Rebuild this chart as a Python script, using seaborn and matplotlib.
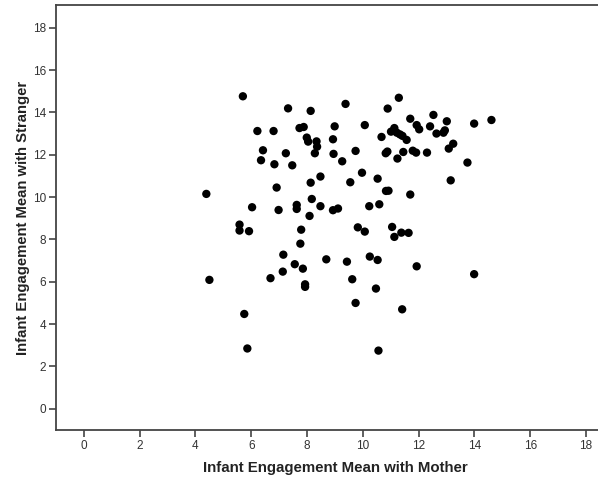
import numpy as np
import pandas as pd
import seaborn as sns
import matplotlib.pyplot as plt

# engagement means
mother = [4.39, 4.50, 5.70, 5.58, 5.58, 5.92, 5.75, 5.86, 6.03, 6.22,
          6.42, 6.35, 6.80, 6.83, 6.91, 6.98, 6.69, 7.13, 7.15, 7.32,
          7.24, 7.47, 7.73, 7.88, 7.99, 8.04, 8.13, 7.63, 7.63, 7.79,
          7.76, 7.56, 7.85, 7.93, 7.93, 8.13, 8.17, 8.09, 8.34, 8.36,
          8.28, 8.48, 8.48, 8.69, 8.93, 8.99, 8.95, 8.93, 9.11, 9.26,
          9.38, 9.55, 9.43, 9.62, 9.74, 9.74, 9.82, 9.97, 10.07, 10.07,
          10.23, 10.25, 10.53, 10.59, 10.53, 10.47, 10.56, 10.67, 10.89, 10.82,
          10.88, 10.83, 10.92, 11.01, 11.13, 11.29, 11.22, 11.33, 11.42, 11.57,
          11.24, 11.45, 11.05, 11.13, 11.38, 11.64, 11.41, 11.70, 11.70, 11.79,
          11.91, 11.93, 12.02, 11.93, 12.30, 12.41, 12.53, 12.64, 12.89, 12.94,
          13.01, 13.08, 13.24, 13.15, 13.75, 13.99, 13.99, 14.61]
stranger = [10.15, 6.09, 14.76, 8.70, 8.42, 8.39, 4.48, 2.85, 9.52, 13.12,
            12.21, 11.74, 13.12, 11.55, 10.45, 9.39, 6.17, 6.48, 7.28, 14.19,
            12.07, 11.50, 13.26, 13.31, 12.81, 12.62, 14.07, 9.63, 9.44, 8.46,
            7.80, 6.83, 6.62, 5.88, 5.76, 10.68, 9.91, 9.11, 12.63, 12.38,
            12.07, 10.97, 9.57, 7.06, 12.73, 13.34, 12.04, 9.38, 9.46, 11.69,
            14.40, 10.70, 6.95, 6.12, 5.00, 12.18, 8.57, 11.15, 13.40, 8.37,
            9.57, 7.19, 10.87, 9.66, 7.03, 5.68, 2.75, 12.84, 14.18, 12.07,
            12.15, 10.29, 10.30, 13.09, 13.26, 14.69, 13.04, 12.96, 12.89, 12.70,
            11.82, 12.13, 8.59, 8.12, 8.32, 8.31, 4.70, 13.70, 10.12, 12.19,
            12.10, 13.40, 13.20, 6.73, 12.10, 13.34, 13.88, 13.00, 13.04, 13.15,
            13.58, 12.29, 12.52, 10.79, 11.63, 13.47, 6.36, 13.64]
ticks = [0, 2, 4, 6, 8, 10, 12, 14, 16, 18]

df = pd.DataFrame({'mother': mother, 'stranger': stranger})

sns.set_style('white')
plt.rcParams['font.family'] = ['Liberation Sans', 'DejaVu Sans']

fig = plt.figure(figsize=(5.98, 4.78), dpi=100)
ax = fig.add_axes([0.0936, 0.1004, 0.9064, 0.8891])
sns.scatterplot(data=df, x='mother', y='stranger', color='black',
                s=36, edgecolor='none', linewidth=0, ax=ax)

ax.set_xlim(-1, 18.43)
ax.set_ylim(-1, 19.07)
ax.set_xticks(ticks)
ax.set_yticks(ticks)
ax.tick_params(axis='both', direction='out', length=5, width=1.2,
               color='#444444', labelcolor='#333333', labelsize=8.5, pad=2,
               bottom=True, left=True)
for side in ['left', 'bottom', 'top']:
    ax.spines[side].set_color('#444444')
    ax.spines[side].set_linewidth(1.3)
ax.spines['right'].set_visible(False)

ax.set_xlabel('Infant Engagement Mean with Mother', fontsize=10.8,
              fontweight='bold', color='#222222')
ax.set_ylabel('Infant Engagement Mean with Stranger', fontsize=10.7,
              fontweight='bold', color='#222222', labelpad=2)
# the original frame runs past the right edge, so the title sits a bit right of centre
ax.xaxis.set_label_coords(0.515, -0.072)

fig.savefig('out.png', dpi=100)
